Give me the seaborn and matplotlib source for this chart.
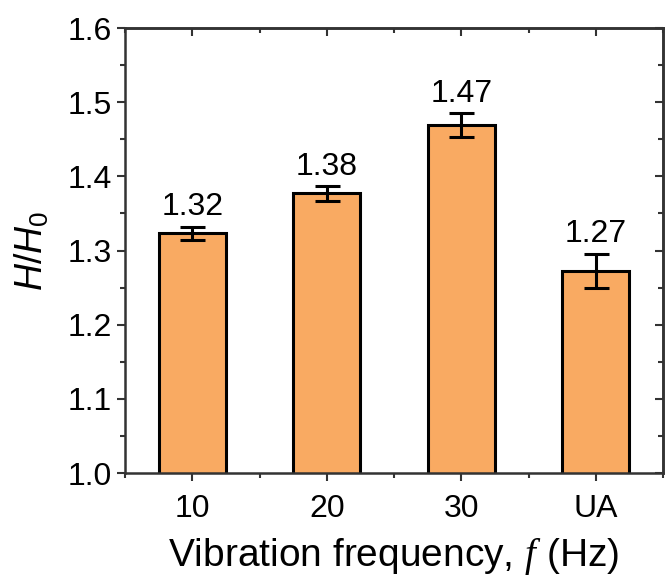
import matplotlib
matplotlib.use("Agg")
import matplotlib.pyplot as plt
import seaborn as sns
import pandas as pd
from matplotlib.ticker import MultipleLocator

categories = ["10", "20", "30", "UA"]
values = [1.323, 1.377, 1.469, 1.273]
errors = [0.009, 0.010, 0.016, 0.023]
labels = ["1.32", "1.38", "1.47", "1.27"]

sns.set_style("ticks")
plt.rcParams["font.family"] = ["Liberation Sans", "DejaVu Sans"]
plt.rcParams["mathtext.fontset"] = "custom"
plt.rcParams["mathtext.rm"] = "Liberation Sans"
plt.rcParams["mathtext.it"] = "Liberation Sans:italic"
plt.rcParams["mathtext.bf"] = "Liberation Serif:italic"
for k in ["text.color", "axes.labelcolor", "xtick.labelcolor", "ytick.labelcolor"]:
    plt.rcParams[k] = "black"

df = pd.DataFrame({"cat": categories, "val": values})

fig = plt.figure(figsize=(6.65, 5.79), dpi=100)
ax = fig.add_axes([0.188, 0.183, 0.809, 0.7686])

sns.barplot(data=df, x="cat", y="val", color="#F9AA62", saturation=1,
            width=0.5, edgecolor="black", linewidth=2.2, ax=ax, zorder=2)
ax.errorbar(range(len(values)), values, yerr=errors, fmt="none",
            ecolor="black", elinewidth=2.2, capsize=9, capthick=2.2, zorder=3)
for i, (v, e, t) in enumerate(zip(values, errors, labels)):
    ax.text(i, v + e + 0.006, t, ha="center", va="bottom", fontsize=23)

ax.set_ylim(1.0, 1.6)
ax.set_xlim(-0.5, 3.5)
ax.yaxis.set_major_locator(MultipleLocator(0.1))
ax.yaxis.set_minor_locator(MultipleLocator(0.05))
ax.xaxis.set_minor_locator(MultipleLocator(0.5))
ax.tick_params(axis="both", which="major", direction="out", length=6, width=1.5,
               labelsize=23, color="#333333")
ax.tick_params(axis="x", which="major", pad=9)
ax.tick_params(axis="both", which="minor", direction="out", length=3.5, width=1.5,
               color="#333333")
ax.tick_params(axis="x", which="minor", bottom=True)
ax.set_xlabel("Vibration frequency, $\\mathbf{f}$ (Hz)", fontsize=28, labelpad=9)
ax.set_ylabel("$H/H_0$", fontsize=27, labelpad=12)
for s in ax.spines.values():
    s.set_visible(True)
    s.set_linewidth(1.8)
    s.set_color("#333333")

sec_x = ax.secondary_xaxis("top")
sec_x.set_xticks([0, 1, 2, 3])
sec_x.xaxis.set_minor_locator(MultipleLocator(0.5))
sec_x.tick_params(which="major", direction="in", length=6, width=1.5, labeltop=False, color="#333333")
sec_x.tick_params(which="minor", direction="in", length=3.5, width=1.5, color="#333333")
sec_x.spines["top"].set_linewidth(1.8)
sec_y = ax.secondary_yaxis("right")
sec_y.yaxis.set_major_locator(MultipleLocator(0.1))
sec_y.yaxis.set_minor_locator(MultipleLocator(0.05))
sec_y.tick_params(which="major", direction="in", length=6, width=1.5, labelright=False, color="#333333")
sec_y.tick_params(which="minor", direction="in", length=3.5, width=1.5, color="#333333")
sec_y.spines["right"].set_linewidth(1.8)

fig.savefig("out.png", dpi=100)
